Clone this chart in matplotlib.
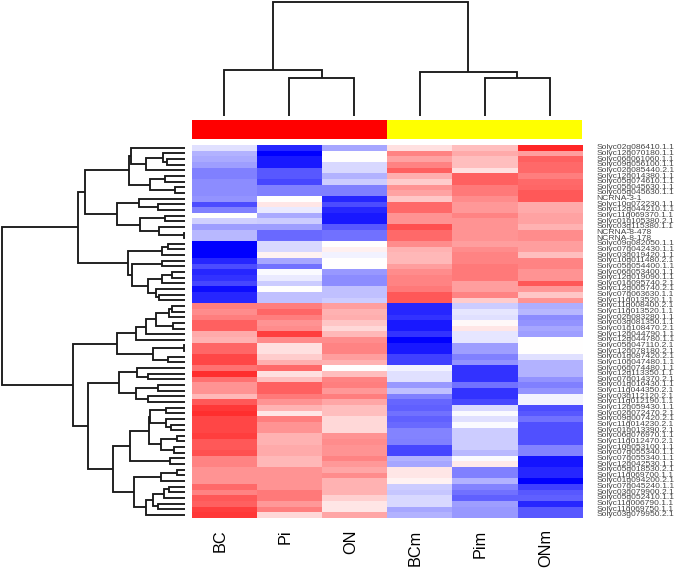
import numpy as np
import matplotlib
matplotlib.use('Agg')
import matplotlib.pyplot as plt
from matplotlib.colors import LinearSegmentedColormap

W, H = 675, 572

samples = ['BC', 'Pi', 'ON', 'BCm', 'Pim', 'ONm']
side_colors = ['red', 'red', 'red', 'yellow', 'yellow', 'yellow']

BC = [-.12, -.3, -.33, -.38, -.5, -.5, -.45, -.45, -.45, -.42, -.7, -.5, 0, -.18, -.38, -.28, -.28,
      -1, -1, -1, -.85, -.7, -.85, -.8, -.72, -.95, -.85, -.85,
      .5, .45, .5, .62, .62, .33, .3, .6, .6, .72, .72, .55, .82, .55, .42, .42, .28, .65, .78, .82,
      .72, .72, .72, .75, .65, .65, .68, .48, .48, .42, .42, .42, .58, .48, .65, .62, .75, .78]
Pi = [-.85, -1, -.9, -.9, -.65, -.65, -.72, -.5, -.5, 0, .1, -.08, -.33, -.2, -.38, -.58, -.58,
      -.15, -.15, .05, -.35, -.55, -.02, -.08, -.2, 0, -.25, -.25,
      .5, .6, .5, .42, .45, .75, .45, .12, .12, .2, .32, .58, .12, .25, .62, .62, .52, .42, .3, .1,
      .5, .42, .42, .3, .3, .33, .33, .28, .28, .42, .42, .42, .42, .52, .52, .4, .5, .15]
ON = [-.35, 0, 0, -.15, -.15, -.3, -.2, -.5, -.5, -.85, -.7, -.85, -.9, -.9, -.65, -.55, -.55,
      0, .06, -.05, 0, 0, -.4, -.45, -.45, -.25, -.25, -.2,
      .38, .3, .32, .22, .15, .28, .45, .48, .48, .38, .3, 0, .25, .48, .5, .4, .5, .35, .25, .25,
      .15, .15, .15, .42, .45, .42, .42, .48, .4, .35, .45, .3, .3, .3, .18, .1, .1, .35]
BCm = [.12, .48, .36, .48, .62, .32, .2, .42, .36, .22, .58, .58, .42, .42, .68, .58, .58,
       .45, .3, .28, .28, .38, .45, .48, .48, .52, .65, .65,
       -.85, -.85, -.8, -.9, -.9, -.8, -1, -.9, -.9, -.75, -.75, -.05, -.12, -.12, -.4, -.25, -.5, -.6, -.62, -.55,
       -.62, -.58, -.48, -.48, -.5, -.72, -.72, -.3, -.35, .1, .1, .05, -.2, -.22, -.15, -.15, -.35, -.3]
Pim = [.25, .33, .25, .25, .12, .62, .62, .52, .52, .45, .4, .4, .48, .42, .42, .42, .42,
       .38, .45, .48, .48, .52, .52, .52, .38, .38, .48, .2,
       -.2, -.1, -.12, .03, .1, -.1, -.1, -.38, -.38, -.5, -.42, -.8, -.8, -.8, -.55, -.8, -.8, -.72, -.15, -.02,
       -.12, -.02, -.2, -.2, -.2, -.2, -.28, -.02, .08, -.5, -.5, -.3, -.48, -.55, -.62, -.38, -.4, -.4]
ONm = [.85, .38, .62, .58, .58, .5, .58, .6, .65, .65, .33, .33, .36, .36, .3, .45, .45,
       .38, .38, .25, .48, .48, .42, .42, .65, .4, .22, .42,
       -.32, -.28, -.45, -.42, -.35, -.38, 0, 0, 0, -.12, -.3, -.3, -.3, -.42, -.5, -.42, -.05, -.05, -.7, -.65,
       -.55, -.68, -.68, -.68, -.68, -.48, -.48, -.92, -.92, -.85, -.85, -1, -.75, -.65, -.62, -.85, -.65, -.65]

genes = ['Solyc02g086410.1.1', 'Solyc12g070180.1.1', 'Solyc06g061060.1.1', 'Solyc09g056100.1.1',
         'Solyc02g085440.2.1', 'Solyc12g014380.1.1', 'Solyc05g074610.1.1', 'Solyc05g045630.1.1',
         'Solyc05g045630.1.1', 'NCRNA-3-1', 'Solyc10g072230.1.1', 'Solyc12g044210.1.1',
         'Solyc11g069370.1.1', 'Solyc01g105380.2.1', 'Solyc03g115380.1.1', 'NCRNA-8-478', 'NCRNA-8-178',
         'Solyc09g082050.1.1', 'Solyc07g042430.1.1', 'Solyc03g019420.1.1', 'Solyc10g011480.2.1',
         'Solyc05g054400.1.1', 'Solyc06g053400.1.1', 'Solyc12g019090.1.1', 'Solyc01g095740.2.1',
         'Solyc12g005740.2.1', 'Solyc07g063630.1.1', 'Solyc11g013520.1.1', 'Solyc11g008400.2.1',
         'Solyc11g013520.1.1', 'Solyc02g083280.1.1', 'Solyc03g081350.1.1', 'Solyc01g108470.2.1',
         'Solyc12g044790.1.1', 'Solyc12g044780.1.1', 'Solyc05g047110.2.1', 'Solyc12g078180.2.1',
         'Solyc01g087420.2.1', 'Solyc10g047480.1.1', 'Solyc06g074480.1.1', 'Solyc12g113350.1.1',
         'Solyc07g014370.2.1', 'Solyc01g016430.1.1', 'Solyc11g044350.2.1', 'Solyc03g112120.2.1',
         'Solyc11g012190.1.1', 'Solyc12g059430.1.1', 'Solyc02g072470.2.1', 'Solyc09g007420.2.1',
         'Solyc11g014230.2.1', 'Solyc01g013390.2.1', 'Solyc06g076970.1.1', 'Solyc11g012470.2.1',
         'Solyc10g053100.1.1', 'Solyc07g055340.1.1', 'Solyc07g055340.1.1', 'Solyc12g042530.1.1',
         'Solyc05g018530.2.1', 'Solyc11g069700.1.1', 'Solyc01g094200.2.1', 'Solyc07g045240.1.1',
         'Solyc03g079900.2.1', 'Solyc05g052410.1.1', 'Solyc11g006790.1.1', 'Solyc11g069750.1.1',
         'Solyc03g079950.2.1']

# merges as (height, child, child), ints are heatmap rows
top_part = (107.7,
            (100, (56.7, (54.7, 0, (39.3, (22.7, 1, (18.7, 2, 3)), 4)),
                   (35.3, (20.7, 5, 6), (10, 7, 8))),
             (68, (46, 9, (27, 10, 11)),
              (45, (20.3, 12, 13), (26, 14, (1, 15, 16))))),
            (57.7, (23, (17, 17, 18), 19),
             (53.7, (23.7, 20, 21),
              (37.7, (23, (13.7, 22, 23), 24), (29.3, 25, (26, 26, 27))))))
bottom_part = (112,
               (68.7, (49.3, (39.3, (29.3, (16, (13.7, 28, 29), 30), (12, 31, 32)), 33), 34),
                (32, (1, 35, 36), (17.7, 37, 38))),
               (97, (66, (48.7, 39, (37, 40, 41)), (49.7, (27.7, 42, 43), (37, 44, 45))),
                (72, (55.3, (36.3, (35.3, (19.3, 46, 47), (19.3, 48, (14.7, 49, 50))),
                             (24.7, (8, 51, 52), (11.3, 53, 54))),
                      (15.3, 55, 56)),
                 (51, (24, (8.7, 57, 58), 59),
                  (39.3, (32, (21.3, (16, 60, 61), 62), (27, 63, 64)), 65)))))
row_tree = (183, top_part, bottom_part)

# same idea for the columns
col_tree = (113.7, (46, 0, (37.7, 1, 2)), (43.7, 3, (38.3, 4, 5)))


def px_axes(x0, y0, x1, y1):
    ax = plt.axes([x0 / W, 1 - y1 / H, (x1 - x0) / W, (y1 - y0) / H])
    ax.axis('off')
    return ax


def draw_tree(ax, node, horizontal):
    if isinstance(node, int):
        return node + 0.5, 0
    h, a, b = node
    pa, ha = draw_tree(ax, a, horizontal)
    pb, hb = draw_tree(ax, b, horizontal)
    hs = [ha, h, h, hb]
    ps = [pa, pa, pb, pb]
    if horizontal:
        ax.plot(hs, ps, color='#1a1a1a', lw=1.35, solid_joinstyle='miter', solid_capstyle='butt')
    else:
        ax.plot(ps, hs, color='#1a1a1a', lw=1.35, solid_joinstyle='miter', solid_capstyle='butt')
    return (pa + pb) / 2, h


hm_x0, hm_x1, hm_y0, hm_y1 = 191.7, 582.3, 145, 517.7
values = np.array([BC, Pi, ON, BCm, Pim, ONm]).T
n_rows = len(genes)
cmap = LinearSegmentedColormap.from_list('bwr2', ['#0000ff', '#ffffff', '#ff0000'])

fig = plt.figure(figsize=(W / 100, H / 100), dpi=100)

ax = px_axes(hm_x0, hm_y0, hm_x1, hm_y1)
ax.imshow(values, cmap=cmap, vmin=-1, vmax=1, aspect='auto', interpolation='nearest',
          extent=(0, 6, n_rows, 0))

for i, g in enumerate(genes):
    ax.annotate(g, (6, i + 0.5), xytext=(10, 0), textcoords='offset points', fontsize=6.1,
                color='#444444', family='Liberation Sans', va='center', ha='left')
for i, s in enumerate(samples):
    ax.annotate(s, (i + 0.5, n_rows), xytext=(-3, -8.4), textcoords='offset points', rotation=90,
                ha='center', va='top', fontsize=11.7, family='Liberation Sans', color='black')

bar = px_axes(hm_x0, 120, hm_x1, 139)
bar.bar(range(6), [1] * 6, width=1, align='edge', color=side_colors)
bar.set_xlim(0, 6)
bar.set_ylim(0, 1)

left = px_axes(0, hm_y0, 185.3, hm_y1)
draw_tree(left, row_tree, True)
left.set_xlim(185.3, 0)
left.set_ylim(n_rows, 0)

top = px_axes(hm_x0, 0, hm_x1, 116)
draw_tree(top, col_tree, False)
top.set_xlim(0, 6)
top.set_ylim(0, 116)

fig.savefig('out.png', dpi=100)
